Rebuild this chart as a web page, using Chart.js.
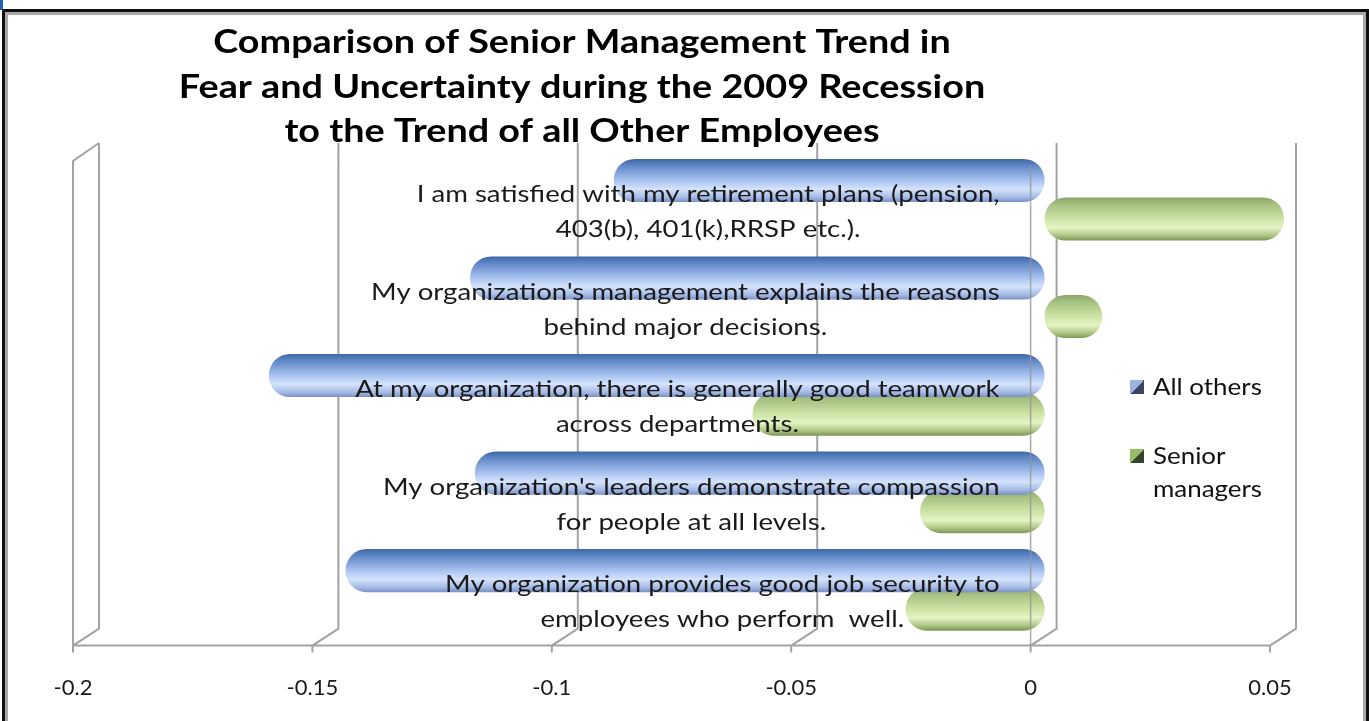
<!DOCTYPE html>
<html>
<head>
<meta charset="utf-8">
<script src="https://cdn.jsdelivr.net/npm/chart.js@4.4.0/dist/chart.umd.min.js"></script>
<style>
  html, body { margin: 0; padding: 0; background: #fff; overflow: hidden; }
  #chart { display: block; }
</style>
</head>
<body>
<canvas id="chart" width="1369" height="721"></canvas>
<script>
// categories, top to bottom, split in two lines like the original
const categories = [
    ['I am satisfied with my retirement plans (pension,', '403(b), 401(k),RRSP etc.).'],
    ["My organization's management explains the reasons", 'behind major decisions.'],
    ['At my organization, there is generally good teamwork', 'across departments.'],
    ["My organization's leaders demonstrate compassion", 'for people at all levels.'],
    ['My organization provides good job security to', 'employees who perform  well.']
];
const allOthers = [-0.090, -0.120, -0.162, -0.119, -0.146];
const seniorManagers = [0.050, 0.012, -0.061, -0.026, -0.029];
const seriesNames = ['All others', ['Senior', 'managers']];
const titleLines = [
    'Comparison of Senior Management Trend in',
    'Fear and Uncertainty during the 2009 Recession',
    'to the Trend of all Other Employees'
];
const xMin = -0.2;
const xMax = 0.05;
const xStep = 0.05;

const CAT_PCT = 0.79;
const BAR_PCT = 1.12;
const DEPTH_X = 26;   // 3D depth of the walls
const DEPTH_Y = 17;
const FONT = 'Lato, "Open Sans", sans-serif';

const blueStops = [[0, '#3e67a6'], [0.15, '#5e86c6'], [0.5, '#a9c3f0'], [0.7, '#d4e3fc'], [0.88, '#a8bde6'], [1, '#7890c6']];
const greenStops = [[0, '#8aa468'], [0.15, '#a4bf80'], [0.5, '#cde4a6'], [0.7, '#e4f5c4'], [0.88, '#adc684'], [1, '#7c9656']];

// vertical cylinder shading for each bar
function cylinderFill(stops) {
    return function (ctx) {
        let chart = ctx.chart;
        let yScale = chart.scales.y;
        if (ctx.type !== 'data' || !yScale) {
            return stops[2][1];
        }
        let band = (yScale.bottom - yScale.top) / categories.length;
        let shift = band * CAT_PCT / 4;
        let center = yScale.getPixelForValue(ctx.dataIndex) + (ctx.datasetIndex === 0 ? -shift : shift);
        let half = shift * BAR_PCT;
        if (!isFinite(center) || !isFinite(half) || half <= 0) {
            return stops[2][1];
        }
        let g = chart.ctx.createLinearGradient(0, center - half, 0, center + half);
        stops.forEach(s => g.addColorStop(s[0], s[1]));
        return g;
    };
}

// text stretched sideways, the original is wider than our fonts
function wideText(c, text, x, y, sx) {
    c.save();
    c.translate(x, y);
    c.scale(sx, 1);
    c.fillText(text, 0, 0);
    c.restore();
}

// window frame round the chart
const framePlugin = {
    id: 'frame',
    beforeDraw(chart) {
        let c = chart.ctx;
        c.save();
        c.fillStyle = '#ffffff';
        c.fillRect(0, 0, chart.width, chart.height);
        c.fillStyle = '#1f62b4';
        c.fillRect(0, 0, 3, 10);
        c.fillStyle = '#101010';
        c.fillRect(2, 9, chart.width - 2, 3);
        c.fillRect(2, 9, 3, chart.height);
        c.fillRect(chart.width - 3, 9, 3, chart.height);
        c.fillStyle = '#a8a8a8';
        c.fillRect(5, 12, chart.width - 8, 3);
        c.fillRect(5, 12, 3, chart.height);
        c.fillRect(chart.width - 6, 12, 3, chart.height);
        c.restore();
    }
};

// 3D walls and gridlines
const wallsPlugin = {
    id: 'walls',
    beforeDatasetsDraw(chart) {
        let c = chart.ctx;
        let x = chart.scales.x;
        let area = chart.chartArea;
        let floorFront = area.bottom + 7;
        let floorBack = floorFront - DEPTH_Y;
        let backTop = area.top - 8;
        c.save();
        c.strokeStyle = '#a3a3a3';
        c.lineWidth = 2;
        c.beginPath();
        for (let v = xMin; v <= xMax + 1e-9; v += xStep) {
            let front = x.getPixelForValue(v) - 14;
            let back = front + DEPTH_X;
            c.moveTo(back, backTop);
            c.lineTo(back, floorBack);
            c.lineTo(front, floorFront);
            c.lineTo(front, floorFront + 7);
        }
        let left = x.getPixelForValue(xMin) - 14;
        let right = x.getPixelForValue(xMax) - 14;
        c.moveTo(left, floorFront);
        c.lineTo(right, floorFront);
        // left wall
        c.moveTo(left, floorFront);
        c.lineTo(left, backTop + DEPTH_Y + 1);
        c.lineTo(left + DEPTH_X, backTop);
        c.stroke();
        c.restore();
    },
    afterDatasetsDraw(chart) {
        let c = chart.ctx;
        let x = chart.scales.x;
        let area = chart.chartArea;
        let zero = x.getPixelForValue(0) - 14;
        c.save();
        c.strokeStyle = 'rgba(150,150,150,0.8)';
        c.lineWidth = 1.5;
        c.beginPath();
        c.moveTo(zero, area.top + 14);
        c.lineTo(zero, area.bottom + 7);
        c.stroke();
        c.restore();
    }
};

// category texts written over the bars, right edge of each block fixed
const catLabelPlugin = {
    id: 'catLabels',
    afterDatasetsDraw(chart) {
        let c = chart.ctx;
        let x = chart.scales.x;
        let y = chart.scales.y;
        let sx = 1.2;
        let rightEdge = x.getPixelForValue(0) - 45;
        c.save();
        c.font = '23px ' + FONT;
        c.fillStyle = '#1a1a1a';
        c.textAlign = 'center';
        c.textBaseline = 'middle';
        categories.forEach((lines, i) => {
            let w = Math.max(...lines.map(l => c.measureText(l).width)) * sx;
            let cx = rightEdge - w / 2;
            let cy = y.getPixelForValue(i) + 12;
            wideText(c, lines[0], cx, cy - 17, sx);
            wideText(c, lines[1], cx, cy + 18, sx);
        });
        c.restore();
    }
};

// title and legend
const textPlugin = {
    id: 'texts',
    afterDraw(chart) {
        let c = chart.ctx;
        c.save();
        c.fillStyle = '#000';
        c.font = 'bold 32px ' + FONT;
        c.textAlign = 'center';
        c.textBaseline = 'middle';
        titleLines.forEach((t, i) => wideText(c, t, 582, 43 + i * 44.5, 1.18));

        c.font = '24px ' + FONT;
        c.textAlign = 'left';
        c.fillStyle = '#111';
        let legendItems = [
            {text: seriesNames[0], y: 387, from: '#9cb2e2', to: '#3c4660'},
            {text: seriesNames[1], y: 456, from: '#98bc68', to: '#34442a'}
        ];
        legendItems.forEach(item => {
            let g = c.createLinearGradient(1130, item.y - 7, 1144, item.y + 7);
            g.addColorStop(0, item.from);
            g.addColorStop(0.5, item.from);
            g.addColorStop(0.5, item.to);
            g.addColorStop(1, item.to);
            c.fillStyle = g;
            c.fillRect(1130, item.y - 7, 14, 14);
            c.fillStyle = '#111';
            let lines = Array.isArray(item.text) ? item.text : [item.text];
            lines.forEach((l, k) => wideText(c, l, 1153, item.y + k * 33, 1.08));
        });
        c.restore();
    }
};

const config = {
    type: 'bar',
    data: {
        labels: categories,
        datasets: [
            {
                label: seriesNames[0],
                data: allOthers,
                backgroundColor: cylinderFill(blueStops),
                borderSkipped: false,
                borderRadius: 21,
                categoryPercentage: CAT_PCT,
                barPercentage: BAR_PCT
            },
            {
                label: seriesNames[1].join(' '),
                data: seniorManagers,
                backgroundColor: cylinderFill(greenStops),
                borderSkipped: false,
                borderRadius: 21,
                categoryPercentage: CAT_PCT,
                barPercentage: BAR_PCT
            }
        ]
    },
    options: {
        indexAxis: 'y',
        responsive: false,
        animation: false,
        devicePixelRatio: 1,
        layout: {
            padding: {left: 87, right: 85, top: 151, bottom: -16}
        },
        scales: {
            x: {
                min: xMin,
                max: xMax,
                grid: {display: false, drawTicks: false},
                border: {display: false},
                ticks: {
                    stepSize: xStep,
                    labelOffset: -14,
                    padding: 36,
                    color: '#1a1a1a',
                    font: {family: FONT, size: 22},
                    callback: v => String(Math.round(v * 100) / 100)
                }
            },
            y: {display: false}
        },
        plugins: {
            legend: {display: false},
            title: {display: false},
            tooltip: {enabled: false}
        }
    },
    plugins: [framePlugin, wallsPlugin, catLabelPlugin, textPlugin]
};

new Chart(document.getElementById('chart'), config);
</script>
</body>
</html>
